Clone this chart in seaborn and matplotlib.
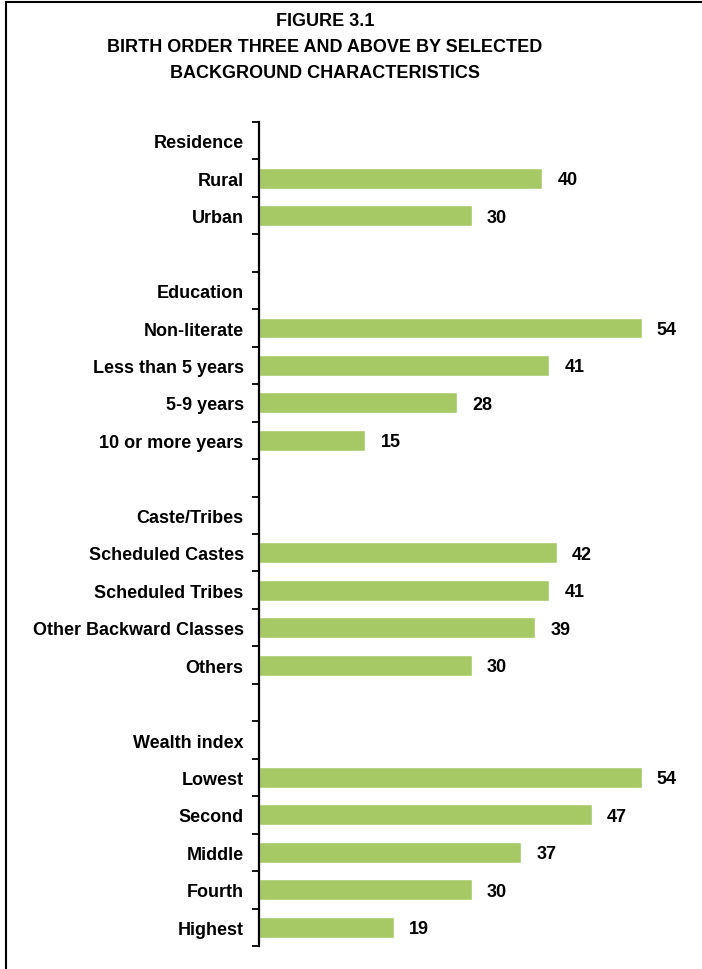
import numpy as np
import pandas as pd
import seaborn as sns
import matplotlib
matplotlib.use("Agg")
import matplotlib.pyplot as plt
from matplotlib.ticker import FixedLocator
from matplotlib.lines import Line2D

title_lines = ["FIGURE 3.1", "BIRTH ORDER THREE AND ABOVE BY SELECTED", "BACKGROUND CHARACTERISTICS"]

categories = ["Residence", "Rural", "Urban", " ",
              "Education", "Non-literate", "Less than 5 years", "5-9 years", "10 or more years", "  ",
              "Caste/Tribes", "Scheduled Castes", "Scheduled Tribes", "Other Backward Classes", "Others", "   ",
              "Wealth index", "Lowest", "Second", "Middle", "Fourth", "Highest"]
values = [np.nan, 40, 30, np.nan,
          np.nan, 54, 41, 28, 15, np.nan,
          np.nan, 42, 41, 39, 30, np.nan,
          np.nan, 54, 47, 37, 30, 19]

sns.set_theme(style="white")
plt.rcParams["font.family"] = ["Liberation Sans Narrow", "Liberation Sans", "DejaVu Sans"]
plt.rcParams["font.weight"] = "bold"

df = pd.DataFrame({"cat": categories, "val": values})

fig = plt.figure(figsize=(7.02, 9.70), dpi=100)
ax = fig.add_axes([259/702, 1 - 947/970, (684 - 259)/702, (947 - 123)/970])

sns.barplot(data=df, y="cat", x="val", order=categories, orient="h",
            color="#A6C965", saturation=1, width=0.56, ax=ax, errorbar=None)

ax.set_xlim(0, 60)
ax.set_ylim(len(categories) - 0.5, -0.5)
ax.set_xlabel("")
ax.set_ylabel("")
ax.set_xticks([])
for s in ["top", "right", "bottom"]:
    ax.spines[s].set_visible(False)
ax.spines["left"].set_color("black")
ax.spines["left"].set_linewidth(1.6)

ax.tick_params(axis="y", which="major", length=0, pad=11, labelsize=13)
ax.yaxis.set_minor_locator(FixedLocator(np.arange(-0.5, len(categories), 1.0)))
ax.tick_params(axis="y", which="minor", left=True, length=5, width=1.3, color="black")
for lbl in ax.get_yticklabels():
    lbl.set_fontweight("bold")
    lbl.set_color("black")

for i, v in enumerate(values):
    if not np.isnan(v):
        ax.annotate(f"{v:.0f}", xy=(v, i), xytext=(11, -1), textcoords="offset points",
                    va="center", ha="left", fontsize=13, fontweight="bold", color="black")

for k, t in enumerate(title_lines):
    fig.text(325/702, 1 - (22 + 25.5*k)/970, t, ha="center", va="center",
             fontsize=13, fontweight="bold", color="black")

fig.add_artist(Line2D([6/702, 1.0], [1 - 3/970, 1 - 3/970], transform=fig.transFigure, color="black", lw=1.5))
fig.add_artist(Line2D([6/702, 6/702], [1 - 3/970, 0.0], transform=fig.transFigure, color="black", lw=1.5))

fig.savefig("out.png", dpi=100)
